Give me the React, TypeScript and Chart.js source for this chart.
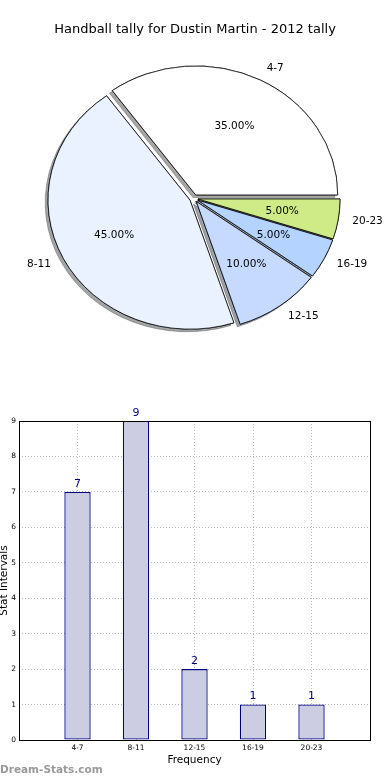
import React, { useEffect, useRef } from 'react';
import { Chart, registerables } from 'chart.js';

Chart.register(...registerables);
Chart.defaults.font.family = '"DejaVu Sans", sans-serif';

// ---------- data ----------
const chartTitle = 'Handball tally for Dustin Martin - 2012 tally';
const categories = ['4-7', '8-11', '12-15', '16-19', '20-23'];
const counts = [7, 9, 2, 1, 1];
const pieFills = ['#ffffff', '#ebf2ff', '#c6d9ff', '#b4d4ff', '#cfeb88'];
const yTickMax = 9;
const xAxisTitle = 'Frequency';
const yAxisTitle = 'Stat Intervals';
const watermark = 'Dream-Stats.com';

// matplotlib draws counter-clockwise from 3 o'clock; Chart.js clockwise -> reverse order
const pieLabels = [...categories].reverse();
const pieValues = [...counts].reverse();
const pieColors = [...pieFills].reverse();

const EXPLODE = 0.03;
const RADIUS_X = 142;
const SCALE_Y = 129 / 142;
const FONT = '"DejaVu Sans", sans-serif';

function shadowOf(hex: string) {
  const n = parseInt(hex.slice(1), 16);
  const r = Math.round(((n >> 16) & 255) * 0.3);
  const g = Math.round(((n >> 8) & 255) * 0.3);
  const b = Math.round((n & 255) * 0.3);
  return `rgba(${r},${g},${b},0.5)`;
}

const piePlugin = {
  id: 'explodedEllipsePie',
  beforeDatasetDraw(chart: any, args: any) {
    const ctx: CanvasRenderingContext2D = chart.ctx;
    const arcs = args.meta.data;
    if (!arcs.length) return false;
    const cx = arcs[0].x;
    const cy = arcs[0].y;
    const r = arcs[0].outerRadius;
    for (const pass of [0, 1]) {
      arcs.forEach((a: any, i: number) => {
        const mid = (a.startAngle + a.endAngle) / 2;
        const ox = Math.cos(mid) * EXPLODE * r;
        const oy = Math.sin(mid) * EXPLODE * r * SCALE_Y;
        ctx.save();
        if (pass === 0) {
          ctx.shadowColor = shadowOf(pieColors[i]);
          ctx.shadowOffsetX = -0.02 * r;
          ctx.shadowOffsetY = 0.02 * r * SCALE_Y;
          ctx.shadowBlur = 0;
        }
        ctx.translate(cx + ox, cy + oy);
        ctx.scale(1, SCALE_Y);
        ctx.translate(-cx, -cy);
        a.draw(ctx);
        ctx.restore();
      });
    }
    return false;
  },
  afterDraw(chart: any) {
    const ctx: CanvasRenderingContext2D = chart.ctx;
    const meta = chart.getDatasetMeta(0);
    const arcs = meta.data;
    const total = pieValues.reduce((s, v) => s + v, 0);
    ctx.save();
    ctx.fillStyle = '#000';
    ctx.font = `13px ${FONT}`;
    ctx.textAlign = 'center';
    ctx.textBaseline = 'middle';
    ctx.fillText(chartTitle, chart.width / 2, 30);
    ctx.font = `10.5px ${FONT}`;
    arcs.forEach((a: any, i: number) => {
      const r = a.outerRadius;
      const mid = (a.startAngle + a.endAngle) / 2;
      const c = Math.cos(mid);
      const s = Math.sin(mid);
      const bx = a.x + c * EXPLODE * r;
      const by = a.y + s * EXPLODE * r * SCALE_Y;
      // category label
      ctx.textAlign = c > 0 ? 'left' : 'right';
      ctx.fillText(pieLabels[i], bx + c * 1.1 * r, by + s * 1.1 * r * SCALE_Y);
      // percentage
      ctx.textAlign = 'center';
      const pct = ((pieValues[i] / total) * 100).toFixed(2) + '%';
      ctx.fillText(pct, bx + c * 0.6 * r, by + s * 0.6 * r * SCALE_Y);
    });
    ctx.restore();
  },
};

const barPlugin = {
  id: 'barFrameAndValues',
  afterDraw(chart: any) {
    const ctx: CanvasRenderingContext2D = chart.ctx;
    const { left, top, right, bottom } = chart.chartArea;
    ctx.save();
    ctx.strokeStyle = '#000';
    ctx.lineWidth = 1;
    ctx.strokeRect(Math.round(left) + 0.5, Math.round(top) + 0.5, Math.round(right - left), Math.round(bottom - top));
    const meta = chart.getDatasetMeta(0);
    ctx.fillStyle = '#000080';
    ctx.font = `11px ${FONT}`;
    ctx.textAlign = 'center';
    ctx.textBaseline = 'middle';
    meta.data.forEach((el: any, i: number) => {
      ctx.fillText(String(counts[i]), el.x, el.y - 8);
    });
    ctx.restore();
  },
};

export default function App() {
  const pieRef = useRef<HTMLCanvasElement>(null);
  const barRef = useRef<HTMLCanvasElement>(null);

  useEffect(() => {
    const pie = new Chart(pieRef.current as HTMLCanvasElement, {
      type: 'pie',
      data: {
        labels: pieLabels,
        datasets: [
          {
            data: pieValues,
            backgroundColor: pieColors,
            borderColor: '#000000',
            borderWidth: 0.8,
            radius: RADIUS_X,
          } as any,
        ],
      },
      options: {
        animation: false,
        responsive: false,
        devicePixelRatio: 1,
        rotation: 90,
        events: [],
        layout: { padding: { left: 0, right: 2.4, top: 16.8, bottom: 0 } },
        plugins: { legend: { display: false }, tooltip: { enabled: false }, title: { display: false } },
      } as any,
      plugins: [piePlugin as any],
    });

    const bar = new Chart(barRef.current as HTMLCanvasElement, {
      type: 'bar',
      data: {
        datasets: [
          {
            data: categories.map((_, i) => ({ x: i, y: counts[i] })),
            backgroundColor: '#ccccE3',
            borderColor: '#000080',
            borderWidth: 1.3,
            borderSkipped: false,
            barPercentage: 0.45,
            categoryPercentage: 1,
          } as any,
        ],
      },
      options: {
        animation: false,
        responsive: false,
        devicePixelRatio: 1,
        events: [],
        layout: { padding: { left: 0, right: 20, top: 41, bottom: 0 } },
        plugins: { legend: { display: false }, tooltip: { enabled: false }, title: { display: false } },
        scales: {
          x: {
            type: 'linear',
            min: -1,
            max: categories.length,
            offset: false,
            z: 1,
            afterFit: (s: any) => {
              s.height = 40;
            },
            ticks: {
              stepSize: 1,
              autoSkip: false,
              maxRotation: 0,
              padding: 3.5,
              color: '#000',
              font: { size: 7.5, family: FONT },
              callback: (v: any) => categories[v as number] ?? '',
            },
            grid: { color: '#b8b8b8', lineWidth: 1, drawTicks: false, offset: false },
            border: { display: false, dash: [1, 2] },
            title: {
              display: true,
              text: xAxisTitle,
              color: '#000',
              font: { size: 10.5, family: FONT, lineHeight: '12px' },
              padding: { top: 0, bottom: 14 },
            },
          },
          y: {
            type: 'linear',
            min: 0,
            max: yTickMax,
            z: 1,
            afterFit: (s: any) => {
              s.width = 19;
            },
            ticks: {
              stepSize: 1,
              padding: 3,
              color: '#000',
              font: { size: 7.5, family: FONT },
            },
            grid: { color: '#b8b8b8', lineWidth: 1, drawTicks: false },
            border: { display: false, dash: [1, 2] },
            title: {
              display: true,
              text: yAxisTitle,
              color: '#000',
              font: { size: 10.5, family: FONT, lineHeight: '8px' },
              padding: { top: 0, bottom: 0 },
            },
          },
        },
      } as any,
      plugins: [barPlugin as any],
    });

    return () => {
      pie.destroy();
      bar.destroy();
    };
  }, []);

  return (
    <div style={{ position: 'absolute', left: 0, top: 0, width: 390, height: 780, background: '#ffffff', overflow: 'hidden' }}>
      <canvas ref={pieRef} width={390} height={380} style={{ position: 'absolute', left: 0, top: 0, width: 390, height: 380 }} />
      <canvas ref={barRef} width={390} height={400} style={{ position: 'absolute', left: 0, top: 380, width: 390, height: 400 }} />
      <div
        style={{
          position: 'absolute',
          left: 0,
          top: 762,
          fontFamily: FONT,
          fontWeight: 'bold',
          fontSize: '10.5px',
          lineHeight: '14px',
          color: '#999999',
          whiteSpace: 'nowrap',
        }}
      >
        {watermark}
      </div>
    </div>
  );
}
